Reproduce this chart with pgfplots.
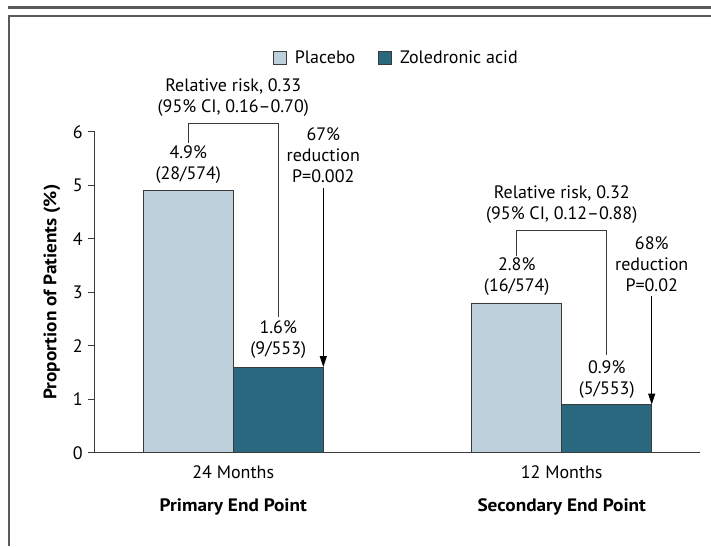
\documentclass[border=0pt]{standalone}
\usepackage{pgfplots}
\pgfplotsset{compat=1.18}
\usetikzlibrary{arrows.meta}
\usepackage{fontspec}
\setmainfont{PT Sans}[BoldFeatures={FakeStretch=1.07}]
\definecolor{placebo}{HTML}{BCCFDA}
\definecolor{zol}{HTML}{2A6880}
\definecolor{framegray}{HTML}{5A5A5A}
\definecolor{axgray}{HTML}{3A3A3A}
\begin{document}
\fontsize{18}{21}\selectfont
\begin{tikzpicture}[x=1pt,y=1pt]
% axis box south west corner is at (0,0); reference pixel (95,452.7)
\useasboundingbox (-95,-93.3) rectangle (616,452.7);
\fill[framegray] (-87,443.7) rectangle (616,446.7);
\draw[framegray, line width=2pt] (616,436.7) -- (-86,436.7) -- (-86,-93.3);
\begin{axis}[
  scale only axis, width=605pt, height=321pt,
  xmin=-0.421, xmax=1.421, ymin=0, ymax=6,
  axis x line=bottom, axis y line=left,
  axis line style={-, line width=1pt, axgray},
  ybar=0pt, bar width=0.274,
  xtick={0,1}, xticklabels={24 Months, 12 Months},
  xtick style={draw=none},
  ytick={0,1,2,3,4,5,6},
  ytick style={axgray, line width=1pt},
  tick align=outside, major tick length=7pt,
  xticklabel style={yshift=0pt},
  yticklabel style={xshift=1pt},
  /pgf/number format/assume math mode=true,
  ticklabel style={font=\fontsize{18}{21}\selectfont},
  clip=false,
  legend style={at={(axis description cs:0.4982,1.2296)}, anchor=center, draw=none, fill=none,
    legend columns=2, font=\fontsize{18}{21}\selectfont,
    /tikz/every even column/.append style={column sep=21pt}},
  legend image code/.code={\draw[#1, draw=axgray, line width=0.8pt] (0pt,-6.5pt) rectangle (13pt,6.5pt); \path (19pt,0pt);},
]
\addplot[fill=placebo, draw=axgray, line width=0.8pt] coordinates {(0,4.9) (1,2.8)};
\addplot[fill=zol, draw=axgray, line width=0.8pt] coordinates {(0,1.6) (1,0.9)};
\legend{Placebo, Zoledronic acid}

\node[rotate=90, font=\bfseries] at (axis description cs:-0.0711,0.5) {Proportion of Patients (\%)};

\node[align=center] at (axis cs:0,6.64) {Relative risk, 0.33\\(95\% CI, 0.16--0.70)};
\draw[axgray, line width=1pt] (axis cs:-0.137,5.794) |- (axis cs:0.137,6.157) -- (axis cs:0.137,2.542);
\node[align=center] at (axis cs:-0.137,5.393) {4.9\%\\(28/574)};
\node[align=center] at (axis cs:0.137,2.107) {1.6\%\\(9/553)};
\node[align=center] at (axis cs:0.274,5.56) {67\%\\reduction\\P=0.002};
\draw[black, line width=1pt, -{Triangle[length=11pt,width=7pt]}] (axis cs:0.274,4.948) -- (axis cs:0.274,1.6);

\node[align=center] at (axis cs:1.0,4.639) {Relative risk, 0.32\\(95\% CI, 0.12--0.88)};
\draw[axgray, line width=1pt] (axis cs:0.863,3.677) |- (axis cs:1.137,4.150) -- (axis cs:1.137,1.826);
\node[align=center] at (axis cs:0.863,3.284) {2.8\%\\(16/574)};
\node[align=center] at (axis cs:1.137,1.359) {0.9\%\\(5/553)};
\node[align=center] at (axis cs:1.274,3.527) {68\%\\reduction\\P=0.02};
\draw[black, line width=1pt, -{Triangle[length=11pt,width=7pt]}] (axis cs:1.274,2.929) -- (axis cs:1.274,0.9);

\node[font=\bfseries] at (axis cs:0,-1.009) {Primary End Point};
\node[font=\bfseries] at (axis cs:1,-1.009) {Secondary End Point};
\end{axis}
\end{tikzpicture}
\end{document}
